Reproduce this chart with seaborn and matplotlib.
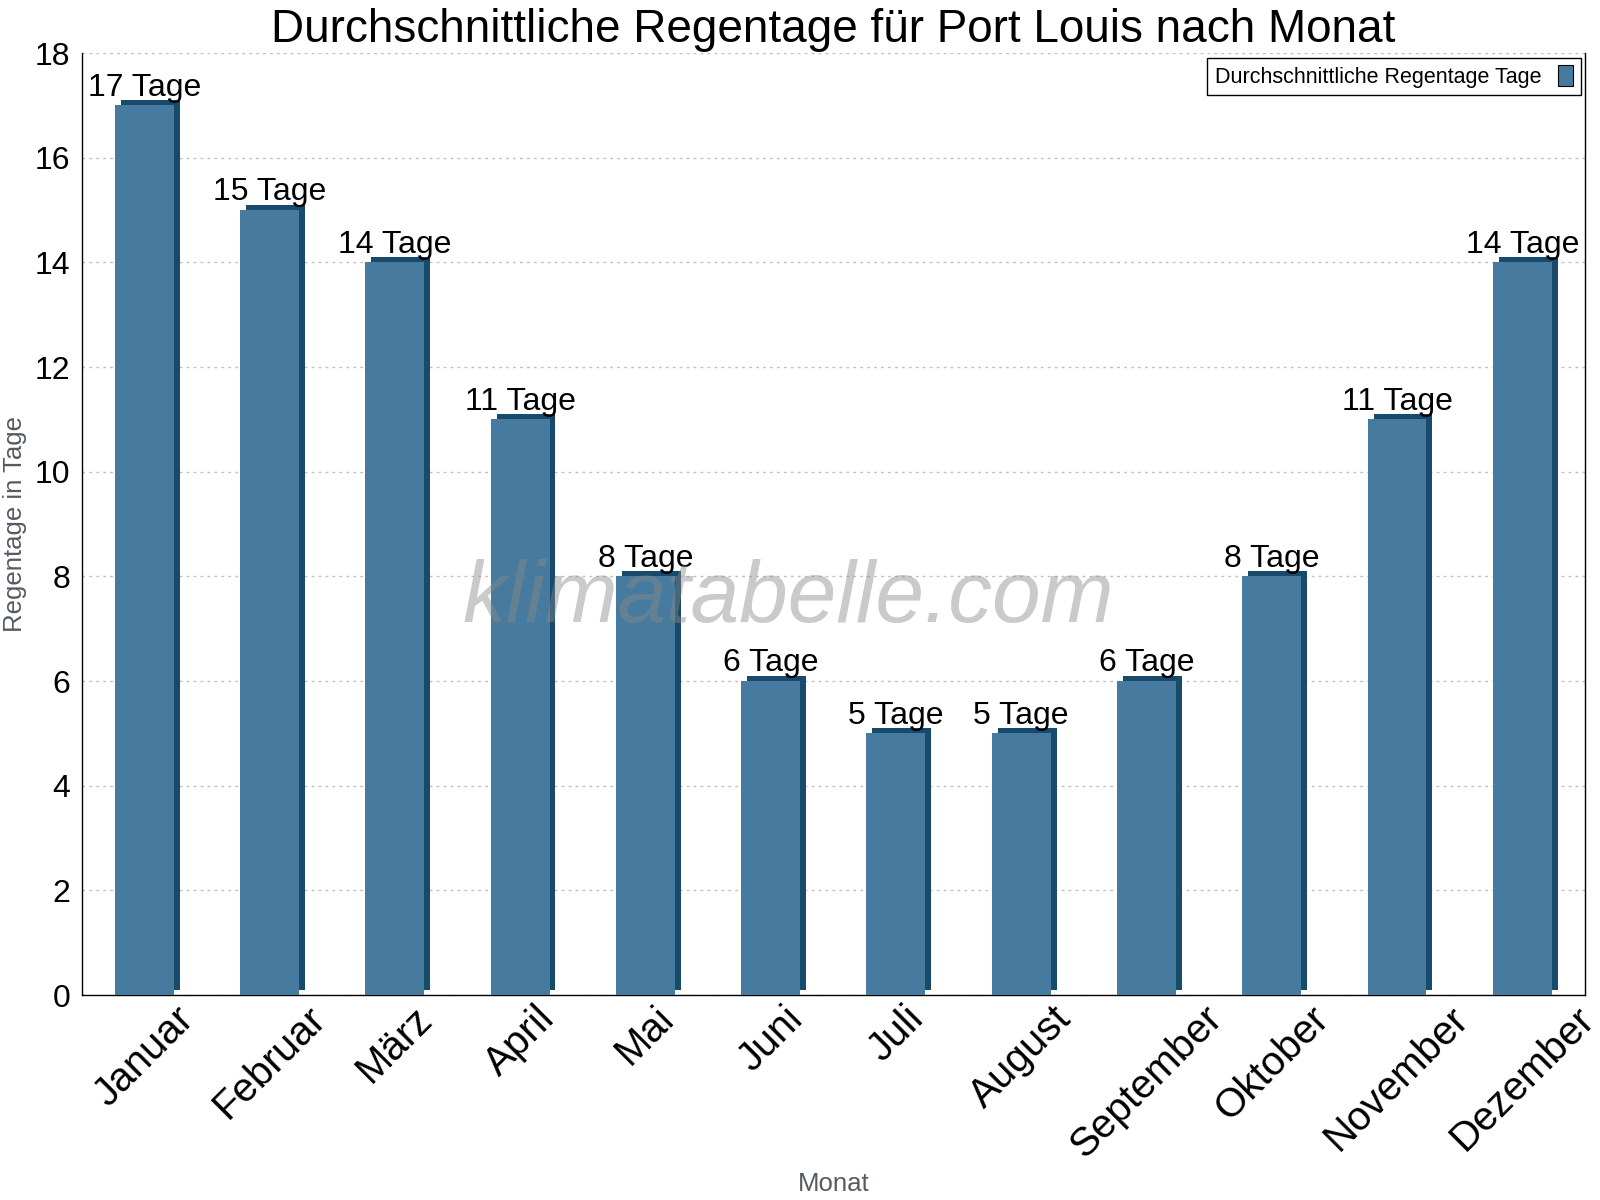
import matplotlib
matplotlib.use("Agg")
import matplotlib.pyplot as plt
import matplotlib.patches as mpatches
import matplotlib.patheffects as pe
from matplotlib.ticker import FixedLocator, MultipleLocator
import seaborn as sns

# Daten: durchschnittliche Regentage pro Monat (Port Louis)
monate = ["Januar", "Februar", "März", "April", "Mai", "Juni", "Juli",
          "August", "September", "Oktober", "November", "Dezember"]
regentage = [17, 15, 14, 11, 8, 6, 5, 5, 6, 8, 11, 14]
einheit = "Tage"
legenden_text = "Durchschnittliche Regentage Tage"

farbe_vorne = "#467a9e"
farbe_seite = "#184a6c"

sns.set_style("white")
plt.rcParams['font.family'] = ['Liberation Sans', 'DejaVu Sans']
plt.rcParams['text.color'] = 'black'
plt.rcParams['xtick.color'] = 'black'
plt.rcParams['ytick.color'] = 'black'

fig, ax = plt.subplots(figsize=(16, 12), dpi=100)
fig.subplots_adjust(left=0.051, right=0.9906, top=0.9558, bottom=0.1708)

sns.barplot(x=monate, y=regentage, color=farbe_vorne, saturation=1,
            width=0.47, linewidth=0, ax=ax, zorder=3)

# 3D-Effekt über einen versetzten Schatten (oben + rechts)
for bar in ax.patches:
    bar.set_path_effects([
        pe.SimplePatchShadow(offset=(4.3, 3.6), shadow_rgbFace=farbe_seite, alpha=1),
        pe.Normal(),
    ])

ax.bar_label(ax.containers[0], labels=[f"{v} {einheit}" for v in regentage],
             padding=2, fontsize=23, color="black", zorder=5)

ax.set_ylim(0, 18)
ax.set_xlim(-0.5, len(monate) - 0.5)
ax.yaxis.set_major_locator(MultipleLocator(2))
ax.grid(axis="y", linestyle=(0, (2, 3)), color="#c0c0c0", linewidth=1, zorder=0)
ax.set_axisbelow(True)

# Striche zwischen den Kategorien
ax.xaxis.set_minor_locator(FixedLocator([i - 0.5 for i in range(len(monate) + 1)]))
ax.tick_params(axis="x", which="major", length=0, pad=3, labelsize=29, labelcolor="black")
ax.tick_params(axis="x", which="minor", length=9, direction="inout", width=1, color="black")
ax.tick_params(axis="y", which="major", length=6, direction="out", width=1,
               color="black", labelsize=23, pad=2, labelcolor="black")
for lbl in ax.get_xticklabels():
    lbl.set_rotation(45)
    lbl.set_ha("center")

for side in ["left", "bottom", "right"]:
    ax.spines[side].set_visible(True)
    ax.spines[side].set_color("black")
    ax.spines[side].set_linewidth(1)
ax.spines["top"].set_visible(False)

ax.set_title("Durchschnittliche Regentage für Port Louis nach Monat", fontsize=33,
             pad=8, color="black")
ax.set_xlabel("Monat", fontsize=18.5, color="#555b63", labelpad=5)
ax.set_ylabel("Regentage in Tage", fontsize=18.5, color="#555b63", labelpad=6)

handle = mpatches.Patch(facecolor=farbe_vorne, edgecolor="black", linewidth=0.8,
                        label=legenden_text)
ax.legend(handles=[handle], loc="upper right", markerfirst=False, fontsize=15.5,
          fancybox=False, edgecolor="black", framealpha=1, handlelength=0.7,
          handleheight=1.1, borderpad=0.35, borderaxespad=0,
          bbox_to_anchor=(0.9973, 0.995))
ax.get_legend().get_frame().set_linewidth(1)

ax.text(0.47, 0.42, "klimatabelle.com", transform=ax.transAxes, fontsize=63,
        style="italic", color="#8a8a8a", alpha=0.45, ha="center", va="center", zorder=6)

fig.savefig("out.png", dpi=100)
